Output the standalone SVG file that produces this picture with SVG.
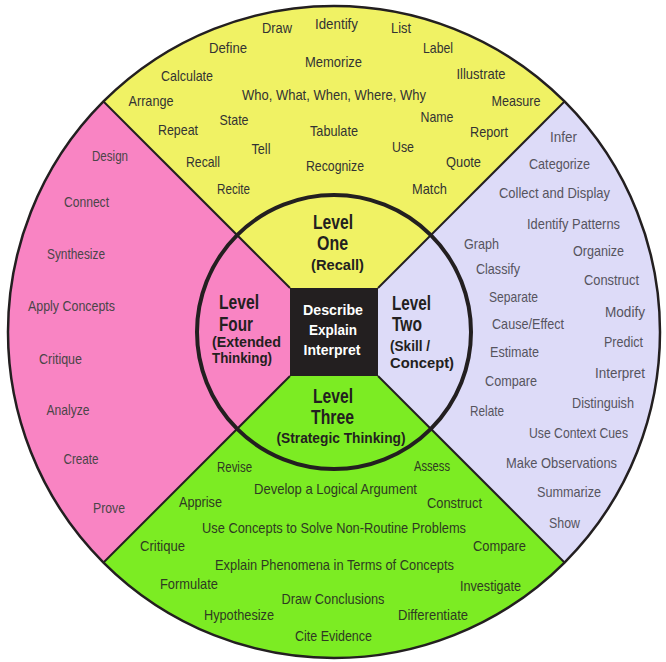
<svg xmlns="http://www.w3.org/2000/svg" width="666" height="662" viewBox="0 0 666 662">
<style>
text{font-family:"Liberation Sans",Arial,sans-serif;text-anchor:middle}
.t{font-size:15px}
.dy{fill:#333333}
.dp{fill:#4a4548}
.dl{fill:#56545e}
.dg{fill:#2e3a22}
.b{font-weight:bold;fill:#231f20}
.bl{font-size:20px}
.bs{font-size:14.5px}
.w{font-weight:bold;fill:#ffffff;font-size:14.5px}
.lft{text-anchor:start}
.div{stroke:#231f20;stroke-width:2;fill:none}
</style>
<rect width="666" height="662" fill="#ffffff"/>
<g id="level-one-area">
<path d="M334 332 L103.5 101.5 A326 326 0 0 1 564.5 101.5 Z" fill="#f0f264"/>
</g>
<g id="level-two-area">
<path d="M334 332 L564.5 101.5 A326 326 0 0 1 564.5 562.5 Z" fill="#dddbf8"/>
</g>
<g id="level-three-area">
<path d="M334 332 L564.5 562.5 A326 326 0 0 1 103.5 562.5 Z" fill="#7cec23"/>
</g>
<g id="level-four-area">
<path d="M334 332 L103.5 562.5 A326 326 0 0 1 103.5 101.5 Z" fill="#f984c3"/>
</g>
<g id="connectors">
<line class="div" x1="103.5" y1="101.5" x2="290" y2="288"/>
<line class="div" x1="564.5" y1="101.5" x2="378" y2="288"/>
<line class="div" x1="103.5" y1="562.5" x2="290" y2="376"/>
<line class="div" x1="564.5" y1="562.5" x2="378" y2="376"/>
<circle cx="334" cy="332" r="137" fill="none" stroke="#231f20" stroke-width="4"/>
<circle cx="334" cy="332" r="326" fill="none" stroke="#231f20" stroke-width="2.5"/>
</g>
<g id="center">
<rect x="290" y="288" width="88" height="88" fill="#231f20"/>
<text class="w" x="333" y="315" textLength="60" lengthAdjust="spacingAndGlyphs">Describe</text>
<text class="w" x="333" y="335" textLength="48" lengthAdjust="spacingAndGlyphs">Explain</text>
<text class="w" x="332" y="355" textLength="57" lengthAdjust="spacingAndGlyphs">Interpret</text>
</g>
<g id="level-one">
<text class="b bl" x="333" y="229" textLength="40" lengthAdjust="spacingAndGlyphs">Level</text>
<text class="b bl" x="332.5" y="250" textLength="31" lengthAdjust="spacingAndGlyphs">One</text>
<text class="b bs" x="337.5" y="270" textLength="53" lengthAdjust="spacingAndGlyphs">(Recall)</text>
<g class="t dy">
<text x="277" y="33" textLength="30" lengthAdjust="spacingAndGlyphs">Draw</text>
<text x="336.5" y="29" textLength="43" lengthAdjust="spacingAndGlyphs">Identify</text>
<text x="401" y="33" textLength="20" lengthAdjust="spacingAndGlyphs">List</text>
<text x="228" y="52.5" textLength="38" lengthAdjust="spacingAndGlyphs">Define</text>
<text x="333.5" y="66.5" textLength="57" lengthAdjust="spacingAndGlyphs">Memorize</text>
<text x="438" y="53" textLength="30" lengthAdjust="spacingAndGlyphs">Label</text>
<text x="187" y="80.5" textLength="52" lengthAdjust="spacingAndGlyphs">Calculate</text>
<text x="481" y="79" textLength="49" lengthAdjust="spacingAndGlyphs">Illustrate</text>
<text x="334" y="100" textLength="184" lengthAdjust="spacingAndGlyphs">Who, What, When, Where, Why</text>
<text x="151" y="106" textLength="45" lengthAdjust="spacingAndGlyphs">Arrange</text>
<text x="516" y="106" textLength="49" lengthAdjust="spacingAndGlyphs">Measure</text>
<text x="178" y="135" textLength="40" lengthAdjust="spacingAndGlyphs">Repeat</text>
<text x="234" y="125" textLength="29" lengthAdjust="spacingAndGlyphs">State</text>
<text x="334" y="136" textLength="48" lengthAdjust="spacingAndGlyphs">Tabulate</text>
<text x="437" y="122" textLength="33" lengthAdjust="spacingAndGlyphs">Name</text>
<text x="489" y="137" textLength="38" lengthAdjust="spacingAndGlyphs">Report</text>
<text x="261" y="154" textLength="19" lengthAdjust="spacingAndGlyphs">Tell</text>
<text x="203" y="166.5" textLength="34" lengthAdjust="spacingAndGlyphs">Recall</text>
<text x="403" y="152" textLength="22" lengthAdjust="spacingAndGlyphs">Use</text>
<text x="335" y="171" textLength="58" lengthAdjust="spacingAndGlyphs">Recognize</text>
<text x="463.5" y="167" textLength="35" lengthAdjust="spacingAndGlyphs">Quote</text>
<text x="233.5" y="194" textLength="33" lengthAdjust="spacingAndGlyphs">Recite</text>
<text x="429.5" y="194" textLength="35" lengthAdjust="spacingAndGlyphs">Match</text>
</g>
</g>
<g id="level-two">
<text class="b bl lft" x="392" y="310" textLength="39" lengthAdjust="spacingAndGlyphs">Level</text>
<text class="b bl lft" x="392" y="330.5" textLength="30" lengthAdjust="spacingAndGlyphs">Two</text>
<text class="b bs lft" x="390" y="350.5" textLength="40" lengthAdjust="spacingAndGlyphs">(Skill /</text>
<text class="b bs lft" x="390" y="367.5" textLength="64" lengthAdjust="spacingAndGlyphs">Concept)</text>
<g class="t dl">
<text x="563.5" y="141.5" textLength="27" lengthAdjust="spacingAndGlyphs">Infer</text>
<text x="559.5" y="169" textLength="61" lengthAdjust="spacingAndGlyphs">Categorize</text>
<text x="554.5" y="198" textLength="111" lengthAdjust="spacingAndGlyphs">Collect and Display</text>
<text x="573.5" y="229" textLength="93" lengthAdjust="spacingAndGlyphs">Identify Patterns</text>
<text x="481.5" y="249" textLength="35" lengthAdjust="spacingAndGlyphs">Graph</text>
<text x="598.5" y="256" textLength="51" lengthAdjust="spacingAndGlyphs">Organize</text>
<text x="498" y="274" textLength="44" lengthAdjust="spacingAndGlyphs">Classify</text>
<text x="611.5" y="285" textLength="55" lengthAdjust="spacingAndGlyphs">Construct</text>
<text x="513.5" y="302" textLength="49" lengthAdjust="spacingAndGlyphs">Separate</text>
<text x="625" y="316.5" textLength="40" lengthAdjust="spacingAndGlyphs">Modify</text>
<text x="528" y="329" textLength="72" lengthAdjust="spacingAndGlyphs">Cause/Effect</text>
<text x="623.5" y="347" textLength="39" lengthAdjust="spacingAndGlyphs">Predict</text>
<text x="514.5" y="357" textLength="49" lengthAdjust="spacingAndGlyphs">Estimate</text>
<text x="620" y="378" textLength="50" lengthAdjust="spacingAndGlyphs">Interpret</text>
<text x="511" y="386" textLength="52" lengthAdjust="spacingAndGlyphs">Compare</text>
<text x="603" y="408" textLength="62" lengthAdjust="spacingAndGlyphs">Distinguish</text>
<text x="487" y="416" textLength="34" lengthAdjust="spacingAndGlyphs">Relate</text>
<text x="578.5" y="438" textLength="99" lengthAdjust="spacingAndGlyphs">Use Context Cues</text>
<text x="561.5" y="468" textLength="111" lengthAdjust="spacingAndGlyphs">Make Observations</text>
<text x="569" y="497" textLength="64" lengthAdjust="spacingAndGlyphs">Summarize</text>
<text x="564.5" y="528" textLength="31" lengthAdjust="spacingAndGlyphs">Show</text>
</g>
</g>
<g id="level-three">
<text class="b bl" x="333" y="402.5" textLength="40" lengthAdjust="spacingAndGlyphs">Level</text>
<text class="b bl" x="332.5" y="424" textLength="43" lengthAdjust="spacingAndGlyphs">Three</text>
<text class="b bs" x="341" y="443" textLength="129" lengthAdjust="spacingAndGlyphs">(Strategic Thinking)</text>
<g class="t dg">
<text x="234.5" y="472" textLength="35" lengthAdjust="spacingAndGlyphs">Revise</text>
<text x="432" y="471" textLength="36" lengthAdjust="spacingAndGlyphs">Assess</text>
<text x="335.5" y="494" textLength="163" lengthAdjust="spacingAndGlyphs">Develop a Logical Argument</text>
<text x="200.5" y="506.5" textLength="43" lengthAdjust="spacingAndGlyphs">Apprise</text>
<text x="454.5" y="508" textLength="55" lengthAdjust="spacingAndGlyphs">Construct</text>
<text x="334" y="533" textLength="264" lengthAdjust="spacingAndGlyphs">Use Concepts to Solve Non-Routine Problems</text>
<text x="162.5" y="551" textLength="45" lengthAdjust="spacingAndGlyphs">Critique</text>
<text x="499.5" y="551" textLength="53" lengthAdjust="spacingAndGlyphs">Compare</text>
<text x="334.5" y="570" textLength="239" lengthAdjust="spacingAndGlyphs">Explain Phenomena in Terms of Concepts</text>
<text x="189" y="589" textLength="58" lengthAdjust="spacingAndGlyphs">Formulate</text>
<text x="490.5" y="590.5" textLength="61" lengthAdjust="spacingAndGlyphs">Investigate</text>
<text x="333" y="604" textLength="103" lengthAdjust="spacingAndGlyphs">Draw Conclusions</text>
<text x="239" y="620" textLength="70" lengthAdjust="spacingAndGlyphs">Hypothesize</text>
<text x="433" y="620" textLength="70" lengthAdjust="spacingAndGlyphs">Differentiate</text>
<text x="333.5" y="640.5" textLength="77" lengthAdjust="spacingAndGlyphs">Cite Evidence</text>
</g>
</g>
<g id="level-four">
<text class="b bl lft" x="219" y="309" textLength="40" lengthAdjust="spacingAndGlyphs">Level</text>
<text class="b bl lft" x="219" y="330.5" textLength="34" lengthAdjust="spacingAndGlyphs">Four</text>
<text class="b bs lft" x="212" y="346.5" textLength="69" lengthAdjust="spacingAndGlyphs">(Extended</text>
<text class="b bs lft" x="212" y="363" textLength="60" lengthAdjust="spacingAndGlyphs">Thinking)</text>
<g class="t dp">
<text x="110" y="161" textLength="36" lengthAdjust="spacingAndGlyphs">Design</text>
<text x="86.5" y="206.5" textLength="45" lengthAdjust="spacingAndGlyphs">Connect</text>
<text x="76" y="259" textLength="58" lengthAdjust="spacingAndGlyphs">Synthesize</text>
<text x="71.5" y="310.5" textLength="87" lengthAdjust="spacingAndGlyphs">Apply Concepts</text>
<text x="60.5" y="364" textLength="43" lengthAdjust="spacingAndGlyphs">Critique</text>
<text x="68" y="415" textLength="43" lengthAdjust="spacingAndGlyphs">Analyze</text>
<text x="81" y="464" textLength="35" lengthAdjust="spacingAndGlyphs">Create</text>
<text x="109" y="512.5" textLength="32" lengthAdjust="spacingAndGlyphs">Prove</text>
</g>
</g>
</svg>
